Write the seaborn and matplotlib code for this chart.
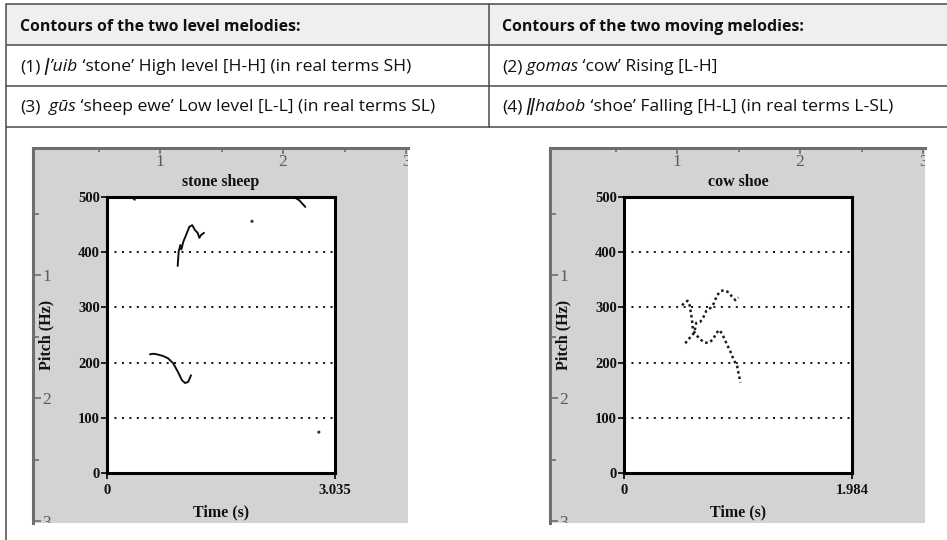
import matplotlib
matplotlib.use("Agg")
import matplotlib.pyplot as plt
import seaborn as sns

# ---------------- data ----------------
header_left = "Contours of the two level melodies:"
header_right = "Contours of the two moving melodies:"
row1_left = [("(1)", "n"), (" ǀ’uib", "i"), (" ‘stone’ High level [H-H] (in real terms SH)", "n")]
row1_right = [("(2)", "n"), (" gomas", "i"), (" ‘cow’ Rising [L-H]", "n")]
row2_left = [("(3)", "n"), ("  gūs", "i"), (" ‘sheep ewe’ Low level [L-L] (in real terms SL)", "n")]
row2_right = [("(4)", "n"), (" ǁhabob", "i"), (" ‘shoe’ Falling [H-L] (in real terms L-SL)", "n")]

left_title = "stone sheep"
right_title = "cow shoe"
left_tmax = 3.035
right_tmax = 1.984
pitch_ticks = [0, 100, 200, 300, 400, 500]
ruler_major = [1, 2, 3]
ruler_minor = [0.5, 1.5, 2.5]

# stone (high level) contour
stone_t = [0.941, 0.954, 0.976, 0.990, 1.016, 1.052, 1.096, 1.135, 1.171, 1.207, 1.229, 1.251, 1.291]
stone_hz = [375, 401, 413, 405, 419, 431, 446, 449, 440, 435, 426, 431, 435]
# sheep (low level) contour
sheep_t = [0.572, 0.620, 0.665, 0.745, 0.810, 0.880, 0.945, 0.998, 1.040, 1.080, 1.118]
sheep_hz = [215, 216, 215, 212, 208, 199, 183, 168, 163, 165, 177]
# stray pitch fragments
stray1_t = [0.33, 0.37]
stray1_hz = [500, 495]
stray2_t = [2.50, 2.56, 2.64]
stray2_hz = [499, 494, 482]
dots_t = [1.93, 2.82]
dots_hz = [456, 74]

# cow (rising) contour
cow_t = [0.533, 0.577, 0.606, 0.621, 0.629, 0.664, 0.693, 0.717, 0.752, 0.781, 0.810, 0.845, 0.877, 0.912, 0.941, 0.970, 0.996]
cow_hz = [235, 246, 253, 263, 272, 274, 283, 294, 299, 307, 322, 330, 331, 327, 319, 313, 318]
# shoe (falling) contour
shoe_t = [0.504, 0.553, 0.571, 0.583, 0.592, 0.600, 0.629, 0.664, 0.702, 0.737, 0.775, 0.804, 0.833, 0.863, 0.898, 0.926, 0.955, 0.985, 0.999, 1.014]
shoe_hz = [304, 312, 304, 289, 277, 259, 250, 242, 236, 236, 242, 254, 259, 248, 232, 220, 205, 193, 178, 164]

# ---------------- style ----------------
sns.set_theme(style="white")
plt.rcParams['font.family'] = ['Open Sans', 'DejaVu Sans']
SERIF = ['Liberation Serif', 'DejaVu Serif']

W, H = 947, 540
fig = plt.figure(figsize=(W / 100, H / 100), dpi=100)
fig.patch.set_facecolor('white')

bg = fig.add_axes([0, 0, 1, 1])
bg.set_xlim(0, W)
bg.set_ylim(H, 0)
bg.axis('off')

LINE = '#4a4a4a'
LW = 1.1
# header fill
bg.add_patch(plt.Rectangle((6, 4), W - 6, 41, facecolor='#efefef', edgecolor='none', zorder=0))
for yy in [4, 45, 86, 127]:
    bg.plot([6, W], [yy, yy], color=LINE, lw=LW, solid_capstyle='butt')
bg.plot([6, 6], [4, H], color=LINE, lw=LW)
bg.plot([489, 489], [4, 127], color=LINE, lw=LW)

FS_HEAD = 11.4
FS_ROW = 12.6
renderer = fig.canvas.get_renderer()


def draw_segments(x, y, segs, fs):
    for s, st in segs:
        t = bg.text(x, y, s, ha='left', va='baseline', fontsize=fs,
                    fontstyle='italic' if st == 'i' else 'normal',
                    fontweight='bold' if st == 'b' else 'normal', color='#111111')
        ext = t.get_window_extent(renderer)
        x += ext.width


draw_segments(20, 31, [(header_left, 'b')], FS_HEAD)
draw_segments(502, 31, [(header_right, 'b')], FS_HEAD)
draw_segments(20, 71, row1_left, FS_ROW)
draw_segments(502, 71, row1_right, FS_ROW)
draw_segments(20, 111, row2_left, FS_ROW)
draw_segments(502, 111, row2_right, FS_ROW)


def px_rect(x0, y0, x1, y1):
    return [x0 / W, 1 - y1 / H, (x1 - x0) / W, (y1 - y0) / H]


def make_panel(gx0, title, tmax, lines, dotted):
    # grey ruler panel
    px0, py0 = gx0, 148
    px1, py1 = gx0 + 375, 523
    pan = fig.add_axes(px_rect(px0, py0, px1, py1))
    pan.set_facecolor('#d3d3d3')
    ppi = 123.0
    pan.set_xlim((px0 - (gx0 + 4)) / ppi, (px1 - (gx0 + 4)) / ppi)
    pan.set_ylim((py1 - 152) / ppi, (py0 - 152) / ppi)
    for s in ['right', 'bottom']:
        pan.spines[s].set_visible(False)
    for s in ['top', 'left']:
        pan.spines[s].set_color('#6e6e6e')
        pan.spines[s].set_linewidth(2.2)
    pan.xaxis.tick_top()
    pan.set_xticks(ruler_major)
    pan.set_xticks(ruler_minor, minor=True)
    pan.set_yticks(ruler_major)
    pan.set_yticks(ruler_minor, minor=True)
    pan.set_xticklabels([str(v) for v in ruler_major])
    pan.set_yticklabels([str(v) for v in ruler_major])
    pan.tick_params(axis='x', which='both', direction='in', top=True, bottom=False,
                    labeltop=True, labelbottom=False, color='#6e6e6e', width=1.2)
    pan.tick_params(axis='x', which='major', length=4, pad=-16, labelsize=12.5, labelcolor='#5a5a5a')
    pan.tick_params(axis='x', which='minor', length=3)
    pan.tick_params(axis='y', which='both', direction='in', left=True, right=False,
                    color='#6e6e6e', width=1.2)
    pan.tick_params(axis='y', which='major', length=6, pad=-6.5, labelsize=12.5, labelcolor='#5a5a5a')
    pan.tick_params(axis='y', which='minor', length=4)
    for lbl in pan.get_xticklabels() + pan.get_yticklabels():
        lbl.set_fontfamily(SERIF)
        lbl.set_clip_on(True)
        lbl.set_clip_box(pan.bbox)
    for lbl in pan.get_yticklabels():
        lbl.set_horizontalalignment('left')
    pan.grid(False)

    # inner pitch axes
    ax0 = gx0 + 74
    ax = fig.add_axes(px_rect(ax0, 197, ax0 + 228, 473))
    ax.set_facecolor('white')
    ax.set_xlim(0, tmax)
    ax.set_ylim(0, 500)
    for s in ax.spines.values():
        s.set_color('black')
        s.set_linewidth(2.2)
        s.set_zorder(5)
    ax.set_yticks(pitch_ticks)
    ax.set_yticklabels([str(v) for v in pitch_ticks])
    ax.set_xticks([0, tmax])
    ax.set_xticklabels(["0", f"{tmax:.3f}"])
    ax.tick_params(axis='both', direction='out', length=4, width=1.2, color='black',
                   left=True, bottom=True, labelsize=10.5, pad=1)
    ax.tick_params(axis='x', pad=4)
    for lbl in ax.get_xticklabels() + ax.get_yticklabels():
        lbl.set_fontfamily(SERIF)
        lbl.set_fontweight('bold')
        lbl.set_color('#111111')
    ax.yaxis.grid(True, linestyle=(0, (1, 2.7)), linewidth=1.45, color='#1a1a1a')
    ax.xaxis.grid(False)
    ax.set_axisbelow(True)

    for (tx, hz) in lines:
        if dotted:
            sns.lineplot(x=tx, y=hz, ax=ax, color='#1a1a1a', lw=1.8, sort=False,
                         estimator=None, linestyle=(0, (1, 1.2)), zorder=3)
        else:
            sns.lineplot(x=tx, y=hz, ax=ax, color='#111111', lw=1.4, sort=False,
                         estimator=None, zorder=3)

    ax.set_title(title, fontsize=11.5, fontweight='bold', family=SERIF, pad=8, color='#111111')
    ax.set_xlabel("Time (s)", fontsize=11.5, fontweight='bold', family=SERIF, labelpad=5, color='#111111')
    ax.set_ylabel("Pitch (Hz)", fontsize=11.5, fontweight='bold', family=SERIF, color='#111111')
    ax.yaxis.set_label_coords(-0.23, 0.5)
    return ax


axL = make_panel(33, left_title, left_tmax,
                 [(stone_t, stone_hz), (sheep_t, sheep_hz), (stray1_t, stray1_hz), (stray2_t, stray2_hz)],
                 dotted=False)
sns.scatterplot(x=dots_t, y=dots_hz, ax=axL, color='#333333', s=5, edgecolor='none', zorder=3)

axR = make_panel(550, right_title, right_tmax,
                 [(cow_t, cow_hz), (shoe_t, shoe_hz)], dotted=True)

fig.savefig("out.png", dpi=100)
